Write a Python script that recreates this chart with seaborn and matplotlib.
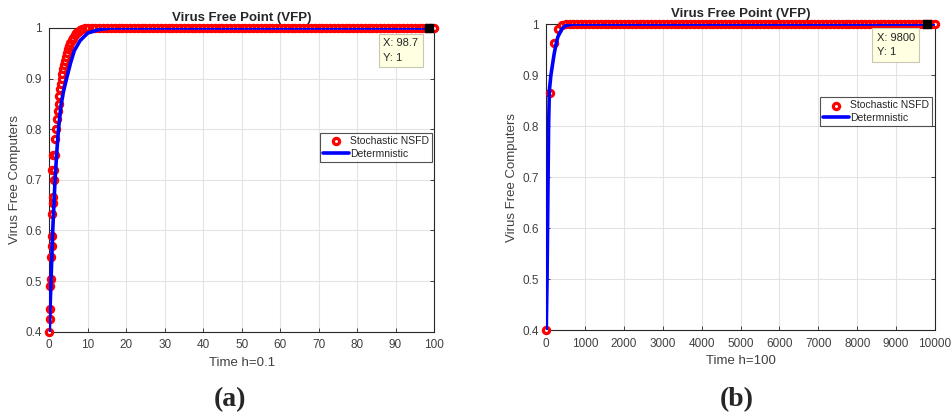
import seaborn as sns
import pandas as pd
import matplotlib.pyplot as plt

# panel (a), h = 0.1
stoch_a_t = [0.0, 0.1, 0.2, 0.3, 0.4, 0.5, 0.6, 0.7, 0.8, 0.9, 1.0, 0.6, 0.9, 1.1, 1.2,
             1.4, 1.6, 1.8, 2.0, 2.2, 2.4, 2.6, 2.8, 3.0, 3.2, 3.4, 3.6, 3.8, 4.0, 4.3,
             4.6, 4.9, 5.2, 5.5, 5.8, 6.2, 6.6, 7.0, 7.5, 8.0, 8.6, 9.3, 10.0]
stoch_a_v = [0.40, 0.425, 0.445, 0.49, 0.505, 0.548, 0.57, 0.59, 0.632, 0.655, 0.667, 0.72,
             0.75, 0.70, 0.72, 0.75, 0.78, 0.80, 0.82, 0.835, 0.85, 0.865, 0.88, 0.89,
             0.90, 0.91, 0.918, 0.926, 0.934, 0.942, 0.95, 0.958, 0.965, 0.971, 0.976,
             0.981, 0.986, 0.99, 0.993, 0.996, 0.998, 0.999, 1.0]
stoch_a_tail_t = list(range(11, 101))
stoch_a_tail_v = [1.0] * len(stoch_a_tail_t)

det_a_t = [0, 0.45, 0.9, 1.5, 2.0, 2.4, 3.0, 3.7, 4.5, 5.5, 6.5, 8, 10, 13, 16, 100]
det_a_v = [0.4, 0.5, 0.6, 0.7, 0.76, 0.8, 0.845, 0.875, 0.9, 0.93, 0.955, 0.975, 0.99,
           0.997, 1.0, 1.0]

# panel (b), h = 100
stoch_b_t = [0, 100, 200, 300, 400]
stoch_b_v = [0.40, 0.865, 0.963, 0.99, 0.998]
stoch_b_tail_t = list(range(500, 10001, 100))
stoch_b_tail_v = [1.0] * len(stoch_b_tail_t)

det_b_t = [0, 20, 40, 60, 80, 120, 200, 250, 300, 400, 500, 700, 10000]
det_b_v = [0.4, 0.5, 0.65, 0.8, 0.87, 0.9, 0.94, 0.96, 0.975, 0.99, 0.997, 1.0, 1.0]

panels = [
    dict(st=stoch_a_t + stoch_a_tail_t, sv=stoch_a_v + stoch_a_tail_v,
         dt=det_a_t, dv=det_a_v, xmax=100, xticks=list(range(0, 101, 10)),
         xlabel='Time h=0.1', tip=(98.7, 1.0), tiptxt='X: 98.7\nY: 1',
         tippos=(86.8, 0.98), leg=(0.995, 0.654), tag='(a)',
         pos=[0.0517, 0.2046, 0.4037, 0.7283], tagx=0.241),
    dict(st=stoch_b_t + stoch_b_tail_t, sv=stoch_b_v + stoch_b_tail_v,
         dt=det_b_t, dv=det_b_v, xmax=10000, xticks=list(range(0, 10001, 1000)),
         xlabel='Time h=100', tip=(9800, 1.0), tiptxt='X: 9800\nY: 1',
         tippos=(8500, 0.983), leg=(0.992, 0.761), tag='(b)',
         pos=[0.5732, 0.2086, 0.4079, 0.7338], tagx=0.773),
]

sns.set_style('white')
plt.rcParams['font.family'] = ['Liberation Sans', 'DejaVu Sans']
txt = '#404040'

fig = plt.figure(figsize=(9.53, 4.17), dpi=100)

for p in panels:
    ax = fig.add_axes(p['pos'])
    ds = pd.DataFrame({'t': p['st'], 'v': p['sv']})
    dd = pd.DataFrame({'t': p['dt'], 'v': p['dv']})
    sns.scatterplot(data=ds, x='t', y='v', ax=ax, marker='o', s=20, color='white',
                    edgecolor='#ff0000', linewidth=2.3, label='Stochastic NSFD',
                    zorder=3, clip_on=False)
    sns.lineplot(data=dd, x='t', y='v', ax=ax, color='#0000ff', linewidth=2.6,
                 label='Determnistic', zorder=4)
    ax.plot([p['tip'][0]], [p['tip'][1]], marker='s', color='black', markersize=6,
            zorder=6, clip_on=False)
    ax.text(p['tippos'][0], p['tippos'][1], p['tiptxt'], fontsize=8, color='#262626',
            va='top', ha='left', linespacing=1.6, zorder=7,
            bbox=dict(boxstyle='square,pad=0.4', fc='#ffffe1', ec='#c8c8b4', lw=0.8))

    ax.set_xlim(0, p['xmax'])
    ax.set_ylim(0.4, 1.0)
    ax.set_xticks(p['xticks'])
    ax.set_yticks([0.4, 0.5, 0.6, 0.7, 0.8, 0.9, 1.0])
    ax.set_yticklabels(['0.4', '0.5', '0.6', '0.7', '0.8', '0.9', '1'])
    ax.grid(True, color='#e3e3e3', linewidth=0.8)
    ax.set_axisbelow(True)
    for s in ax.spines.values():
        s.set_color('#262626')
        s.set_linewidth(0.8)
    ax.tick_params(direction='in', length=3, width=0.6, colors='#262626', labelcolor=txt,
                   labelsize=8.5, top=True, right=True, left=True, bottom=True, pad=5.5)
    ax.set_title('Virus Free Point (VFP)', fontsize=9.5, fontweight='bold', pad=5)
    ax.set_xlabel(p['xlabel'], fontsize=9.5, color=txt, labelpad=4)
    ax.set_ylabel('Virus Free Computers', fontsize=9.5, color=txt, labelpad=3)

    leg = ax.legend(loc='upper right', bbox_to_anchor=p['leg'], fontsize=7.5,
                    frameon=True, fancybox=False, borderpad=0.3, labelspacing=0.25,
                    handlelength=2.5, handletextpad=0.1, borderaxespad=0)
    leg.get_frame().set_edgecolor('#262626')
    leg.get_frame().set_linewidth(0.8)

    fig.text(p['tagx'], 0.042, p['tag'], fontsize=20, fontweight='bold',
             family='Liberation Serif', ha='center', va='center')

fig.savefig('out.png', dpi=100)
